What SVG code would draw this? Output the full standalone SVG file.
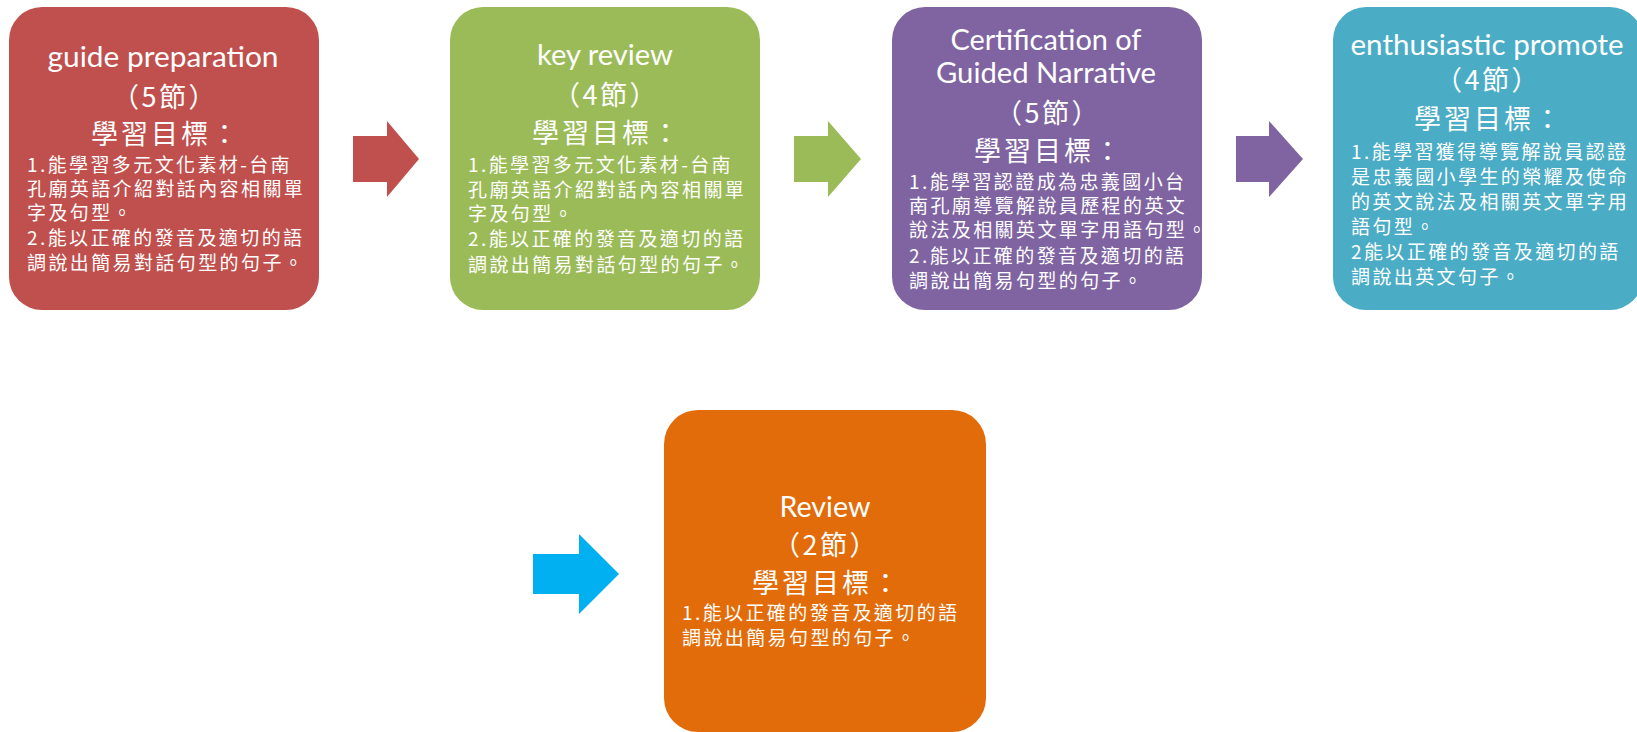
<svg xmlns="http://www.w3.org/2000/svg" width="1637" height="732" viewBox="0 0 1637 732">
<style>
.t{font-family:Lato,"Open Sans","Noto Sans CJK TC",sans-serif;font-size:28px;fill:#fff;text-anchor:middle}
.p{font-family:"Noto Sans CJK TC",sans-serif;font-size:27px;fill:#fff;text-anchor:middle;letter-spacing:2.5px}
.h{font-family:"Noto Sans CJK TC",sans-serif;font-size:27px;fill:#fff;text-anchor:middle;letter-spacing:3px}
.b{font-family:"Noto Sans CJK TC",sans-serif;font-size:19px;fill:#fff;letter-spacing:2.4px}
</style>
<rect width="1637" height="732" fill="#fff"/>
<g id="connectors">
<polygon points="353,136 387,136 387,121 419,159 387,197 387,182 353,182" fill="#C0504D"/>
<polygon points="794,136 828,136 828,121 861,159 828,197 828,182 794,182" fill="#9BBB59"/>
<polygon points="1236,136 1269,136 1269,121 1303,159 1269,197 1269,182 1236,182" fill="#8064A2"/>
<polygon points="533,554 579,554 579,534 619,574 579,614 579,594 533,594" fill="#00B0F0"/>
</g>
<g id="node1">
<rect x="9" y="7" width="310" height="303" rx="33" fill="#C0504D"/>
<text class="t" x="163" y="67" textLength="231" lengthAdjust="spacingAndGlyphs">guide preparation</text>
<text class="p" x="165" y="107">（5節）</text>
<text class="h" x="166" y="144">學習目標：</text>
<text class="b" x="27" y="172">1.能學習多元文化素材-台南</text>
<text class="b" x="27" y="196">孔廟英語介紹對話內容相關單</text>
<text class="b" x="27" y="220">字及句型。</text>
<text class="b" x="27" y="245">2.能以正確的發音及適切的語</text>
<text class="b" x="27" y="270">調說出簡易對話句型的句子。</text>
</g>
<g id="node2">
<rect x="450" y="7" width="310" height="303" rx="33" fill="#9BBB59"/>
<text class="t" x="605" y="65" textLength="136" lengthAdjust="spacingAndGlyphs">key review</text>
<text class="p" x="606" y="105">（4節）</text>
<text class="h" x="607" y="143">學習目標：</text>
<text class="b" x="468" y="172">1.能學習多元文化素材-台南</text>
<text class="b" x="468" y="197">孔廟英語介紹對話內容相關單</text>
<text class="b" x="468" y="221">字及句型。</text>
<text class="b" x="468" y="246">2.能以正確的發音及適切的語</text>
<text class="b" x="468" y="272">調說出簡易對話句型的句子。</text>
</g>
<g id="node3">
<rect x="892" y="7" width="310" height="303" rx="33" fill="#8064A2"/>
<text class="t" x="1046" y="50" textLength="191" lengthAdjust="spacingAndGlyphs">Certification of</text>
<text class="t" x="1046" y="83" textLength="220" lengthAdjust="spacingAndGlyphs">Guided Narrative</text>
<text class="p" x="1048" y="123">（5節）</text>
<text class="h" x="1049" y="161">學習目標：</text>
<text class="b" x="909" y="189">1.能學習認證成為忠義國小台</text>
<text class="b" x="909" y="213">南孔廟導覽解說員歷程的英文</text>
<text class="b" x="909" y="237">說法及相關英文單字用語句型。</text>
<text class="b" x="909" y="263">2.能以正確的發音及適切的語</text>
<text class="b" x="909" y="288">調說出簡易句型的句子。</text>
</g>
<g id="node4">
<rect x="1333" y="7" width="310" height="303" rx="33" fill="#4BACC6"/>
<text class="t" x="1487" y="55" textLength="273" lengthAdjust="spacingAndGlyphs">enthusiastic promote</text>
<text class="p" x="1488" y="90">（4節）</text>
<text class="h" x="1489" y="129">學習目標：</text>
<text class="b" x="1351" y="159">1.能學習獲得導覽解說員認證</text>
<text class="b" x="1351" y="184">是忠義國小學生的榮耀及使命</text>
<text class="b" x="1351" y="209">的英文說法及相關英文單字用</text>
<text class="b" x="1351" y="234">語句型。</text>
<text class="b" x="1351" y="259">2能以正確的發音及適切的語</text>
<text class="b" x="1351" y="284">調說出英文句子。</text>
</g>
<g id="node5">
<rect x="664" y="410" width="322" height="322" rx="34" fill="#E36C0A"/>
<text class="t" x="825" y="517" textLength="91" lengthAdjust="spacingAndGlyphs">Review</text>
<text class="p" x="826" y="555">（2節）</text>
<text class="h" x="827" y="593">學習目標：</text>
<text class="b" x="682" y="620">1.能以正確的發音及適切的語</text>
<text class="b" x="682" y="645">調說出簡易句型的句子。</text>
</g>
</svg>
